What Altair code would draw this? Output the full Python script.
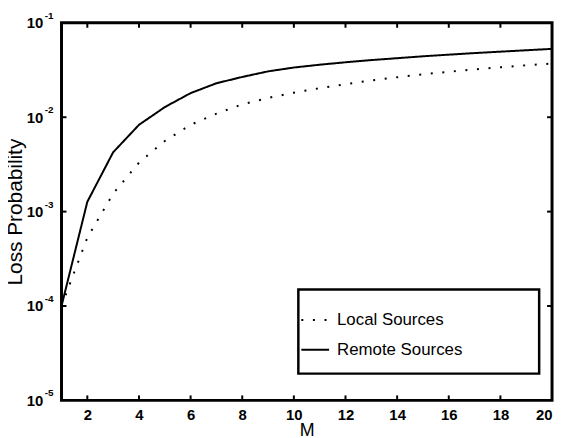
import altair as alt
import pandas as pd

M = list(range(1, 21))
local = [1.0e-4, 5.3e-4, 1.55e-3, 3.3e-3, 5.6e-3, 8.3e-3, 1.09e-2, 1.37e-2, 1.60e-2, 1.82e-2,
         2.03e-2, 2.24e-2, 2.45e-2, 2.65e-2, 2.85e-2, 3.03e-2, 3.21e-2, 3.38e-2, 3.55e-2, 3.70e-2]
remote = [1.0e-4, 1.27e-3, 4.25e-3, 8.3e-3, 1.28e-2, 1.80e-2, 2.29e-2, 2.67e-2, 3.06e-2, 3.36e-2,
          3.60e-2, 3.82e-2, 4.03e-2, 4.22e-2, 4.42e-2, 4.60e-2, 4.78e-2, 4.95e-2, 5.12e-2, 5.30e-2]
series_names = ["Local Sources", "Remote Sources"]

x_ticks = [2, 4, 6, 8, 10, 12, 14, 16, 18, 20]
y_ticks = [1e-5, 1e-4, 1e-3, 1e-2, 1e-1]
y_exps = ["-5", "-4", "-3", "-2", "-1"]

W, H = 495, 381
FONT = "Liberation Sans"

df = pd.DataFrame({
    "M": M * 2,
    "P": local + remote,
    "series": [series_names[0]] * len(M) + [series_names[1]] * len(M),
})
xt = pd.DataFrame({"M": x_ticks[:-1]})
yt = pd.DataFrame({"P": y_ticks, "exp": y_exps})
yt_inner = pd.DataFrame({"P": y_ticks[1:-1]})

xscale = alt.Scale(domain=[1, 20], nice=False, zero=False)
yscale = alt.Scale(type="log", domain=[1e-5, 1e-1], nice=False)

lines = alt.Chart(df).mark_line(color="black", strokeWidth=2, clip=True).encode(
    x=alt.X("M:Q", scale=xscale,
            axis=alt.Axis(values=x_ticks, title="M", ticks=False, domain=False, grid=False,
                          labelFont=FONT, labelFontSize=15, labelFontWeight="bold",
                          labelPadding=7, labelColor="black",
                          titleFont=FONT, titleFontSize=18, titleFontWeight="normal",
                          titleColor="black", titleBaseline="alphabetic", titleY=35)),
    y=alt.Y("P:Q", scale=yscale,
            axis=alt.Axis(values=y_ticks, labelExpr="'10'", title="Loss Probability",
                          ticks=False, domain=False, grid=False,
                          labelFont=FONT, labelFontSize=15, labelFontWeight="bold",
                          labelPadding=19, labelColor="black",
                          titleFont=FONT, titleFontSize=21, titleFontWeight="normal",
                          titleColor="black", titleBaseline="alphabetic", titleX=-40)),
    strokeDash=alt.StrokeDash(
        "series:N",
        scale=alt.Scale(domain=series_names, range=[[2, 9.7], [1, 0]]),
        legend=alt.Legend(
            title="\u00a0", titleOrient="right", titlePadding=61, titleFontSize=6,
            orient="none", legendX=239, legendY=269,
            symbolType="stroke", symbolSize=784, symbolStrokeColor="black",
            symbolStrokeWidth=2, labelFont=FONT, labelFontSize=17, labelColor="black",
            labelOffset=7, labelLimit=400, rowPadding=7, padding=16,
            symbolOffset=-14,
            strokeColor="black", fillColor="white",
        ),
    ),
)

exps = alt.Chart(yt).mark_text(font=FONT, fontSize=10, fontWeight="bold", align="left",
                               baseline="middle", dy=-7, color="black").encode(
    x=alt.value(-17), y=alt.Y("P:Q", scale=yscale), text="exp:N")

tick_b = alt.Chart(xt).mark_rule(color="black", strokeWidth=2).encode(
    x=alt.X("M:Q", scale=xscale), y=alt.value(H), y2=alt.value(H - 5))
tick_t = alt.Chart(xt).mark_rule(color="black", strokeWidth=2).encode(
    x=alt.X("M:Q", scale=xscale), y=alt.value(0), y2=alt.value(5))
tick_l = alt.Chart(yt_inner).mark_rule(color="black", strokeWidth=2).encode(
    y=alt.Y("P:Q", scale=yscale), x=alt.value(0), x2=alt.value(5))
tick_r = alt.Chart(yt_inner).mark_rule(color="black", strokeWidth=2).encode(
    y=alt.Y("P:Q", scale=yscale), x=alt.value(W), x2=alt.value(W - 5))

chart = alt.layer(lines, tick_b, tick_t, tick_l, tick_r, exps).properties(
    width=W, height=H,
    autosize=alt.AutoSizeParams(type="none"),
    padding={"left": 54, "top": 13, "right": 4, "bottom": 36},
    background="white",
).configure_view(stroke="black", strokeWidth=3).configure_legend(strokeWidth=2.5)

chart.save("out.html", embed_options={"renderer": "svg", "actions": False})
